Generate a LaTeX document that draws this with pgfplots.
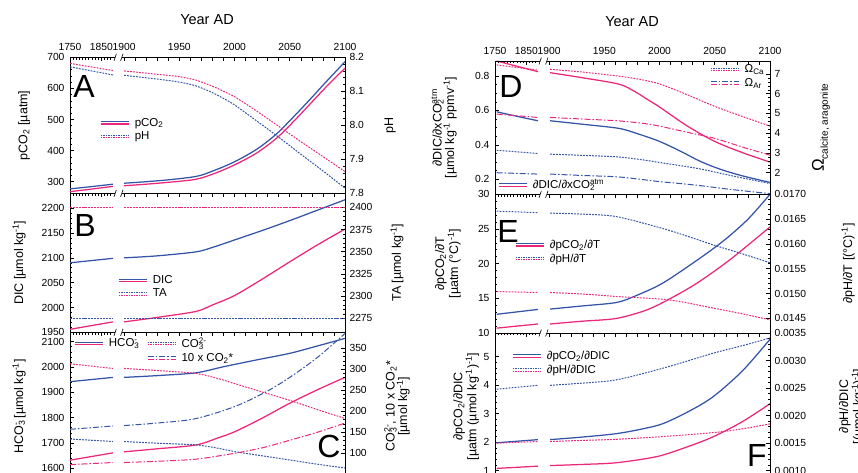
\documentclass[border=0pt]{standalone}
\usepackage{fontspec}
\setmainfont{Liberation Sans}
\usepackage{pgfplots}
\pgfplotsset{compat=1.18}
\definecolor{cb}{RGB}{52,84,168}
\definecolor{cp}{RGB}{236,38,120}
\newcommand{\fs}[1]{\fontsize{#1}{#1}\selectfont}

\pgfplotsset{
  common/.style={
    scale only axis, width=275pt, anchor=south west,
    xmin=1851.1, xmax=2100,
    tick align=inside,
    major tick length=4pt, minor tick length=2.3pt,
    tick style={black, line width=0.6pt},
    axis line style={line width=0.7pt},
    scaled y ticks=false,
    minor y tick num=4,
    /pgf/number format/assume math mode=true,
    /pgf/number format/1000 sep={},
    tick label style={font=\fs{10.3}},
    label style={font=\fs{12.5}},
    legend style={draw=none, fill=none, anchor=west, font=\fs{11.5},
      inner sep=0pt, row sep=1pt, nodes={inner sep=1.5pt},
      /tikz/every odd column/.append style={column sep=4pt}},
    legend cell align=left,
  },
  brk/.style={extra description/.code={
    \draw[line width=0.7pt] (axis description cs:0,1) -- (axis description cs:0.1643,1)
      (axis description cs:0.1884,1) -- (axis description cs:1,1)
      (axis description cs:0,0) -- (axis description cs:0.1643,0)
      (axis description cs:0.1884,0) -- (axis description cs:1,0);
    \draw[line width=0.6pt]
      ([xshift=-1.2pt,yshift=-3.5pt]axis description cs:0.1643,1) -- ([xshift=1.2pt,yshift=3.5pt]axis description cs:0.1643,1)
      ([xshift=-1.2pt,yshift=-3.5pt]axis description cs:0.1884,1) -- ([xshift=1.2pt,yshift=3.5pt]axis description cs:0.1884,1);
  }},
  lpanel/.style={common,
    separate axis lines, x axis line style={draw=none},
    clip mode=individual,
    xtick={1851.1,1879.5,1900,1910,1920,1930,1940,1950,1960,1970,1980,1990,2000,2010,2020,2030,2040,2050,2060,2070,2080,2090,2100},
    minor xtick={1853.9,1856.8,1859.6,1862.5,1865.3,1868.1,1871.0,1873.8,1876.7,1882.3,1885.2,1888.0},
    xticklabels={},
    xtick pos=right, ytick pos=left,
    yticklabel style={xshift=-2pt},
    brk},
  toppanel/.style={xticklabels={1750,1850,1900,,,,,1950,,,,,2000,,,,,2050,,,,,2100},
    xticklabel pos=right, xticklabel style={yshift=3pt}},
  rpanel/.style={common, axis x line=none, axis y line*=right,
    yticklabel style={xshift=1pt}},
  yl/.style={ylabel style={at={(axis description cs:#1,0.5)}, anchor=center, align=center}},
  prec/.style={yticklabel style={/pgf/number format/.cd, fixed, fixed zerofill, precision=#1}},
  bs/.style={cb, line width=1.25pt, smooth, forget plot},
  ps/.style={cp, line width=1.25pt, smooth, forget plot},
  bd/.style={cb, line width=1pt, dash pattern=on 1.8pt off 1.2pt, smooth, forget plot},
  pd/.style={cp, line width=1pt, dash pattern=on 1.8pt off 1.2pt, smooth, forget plot},
  bdd/.style={cb, line width=1pt, dash pattern=on 6pt off 2pt on 1.5pt off 2pt, smooth, forget plot},
  pdd/.style={cp, line width=1pt, dash pattern=on 6pt off 2pt on 1.5pt off 2pt, smooth, forget plot},
  lsolid/.style={legend image code/.code={
    \draw[cb,line width=1.1pt] (0pt,1.2pt) -- (28pt,1.2pt);
    \draw[cp,line width=1.1pt] (0pt,-1.2pt) -- (28pt,-1.2pt);}},
  ldot/.style={legend image code/.code={
    \draw[cb,line width=0.9pt,dash pattern=on 1.5pt off 1pt] (0pt,1.2pt) -- (28pt,1.2pt);
    \draw[cp,line width=0.9pt,dash pattern=on 1.5pt off 1pt] (0pt,-1.2pt) -- (28pt,-1.2pt);}},
  ldd/.style={legend image code/.code={
    \draw[cb,line width=0.9pt,dash pattern=on 6pt off 2pt on 1.5pt off 2pt] (0pt,1.2pt) -- (28pt,1.2pt);
    \draw[cp,line width=0.9pt,dash pattern=on 6pt off 2pt on 1.5pt off 2pt] (0pt,-1.2pt) -- (28pt,-1.2pt);}},
}

\begin{document}
\begin{tikzpicture}
\useasboundingbox (0pt,0pt) rectangle (858pt,-473pt);

% ---------------- A ----------------
\begin{axis}[lpanel, toppanel, at={(70pt,-193.3pt)}, height=136pt,
  ymin=262.7, ymax=700, ytick={300,400,500,600,700},
  ylabel={pCO\textsubscript{2} [µatm]}, yl=-0.167,
  legend style={at={(axis description cs:0.109,0.469)}}]
\addlegendimage{lsolid}\addlegendentry{pCO\textsubscript{2}}
\addlegendimage{ldot}\addlegendentry{pH}
\addplot[bs] coordinates {(1851.1,277) (1870,284) (1890,292)};
\addplot[bs] coordinates {(1900,295) (1920,300) (1940,306) (1960,314) (1970,321) (1980,334) (1990,348) (2000,364) (2010,383) (2020,404) (2030,430) (2040,460) (2050,496) (2060,533) (2070,571) (2080,610) (2090,648) (2100,686)};
\addplot[ps] coordinates {(1851.1,268) (1870,276) (1890,285)};
\addplot[ps] coordinates {(1900,287) (1920,292) (1940,298) (1960,305) (1970,312) (1980,324) (1990,338) (2000,354) (2010,372) (2020,392) (2030,417) (2040,446) (2050,481) (2060,518) (2070,556) (2080,594) (2090,630) (2100,665)};
\end{axis}
\begin{axis}[rpanel, at={(70pt,-193.3pt)}, height=136pt,
  ymin=7.8, ymax=8.2, ytick={7.8,7.9,8.0,8.1,8.2}, prec=1,
  ylabel={pH}, yl=1.164]
\addplot[pd] coordinates {(1851.1,8.182) (1890,8.161)};
\addplot[pd] coordinates {(1900,8.160) (1930,8.150) (1950,8.143) (1965,8.133) (1980,8.115) (1990,8.100) (2000,8.084) (2020,8.042) (2040,7.997) (2060,7.952) (2080,7.908) (2100,7.864)};
\addplot[bd] coordinates {(1851.1,8.172) (1890,8.148)};
\addplot[bd] coordinates {(1900,8.147) (1930,8.136) (1950,8.127) (1965,8.116) (1980,8.096) (1990,8.079) (2000,8.060) (2020,8.013) (2040,7.965) (2060,7.915) (2080,7.866) (2100,7.815)};
\end{axis}

% ---------------- B ----------------
\begin{axis}[lpanel, at={(70pt,-332.3pt)}, height=139pt,
  ymin=1950, ymax=2230, ytick={1950,2000,2050,2100,2150,2200},
  ylabel={DIC [µmol kg\textsuperscript{-1}]}, yl=-0.185,
  legend style={at={(axis description cs:0.175,0.326)}}]
\addlegendimage{lsolid}\addlegendentry{DIC}
\addlegendimage{ldot}\addlegendentry{TA}
\addplot[bs] coordinates {(1851.1,2090) (1890,2099)};
\addplot[bs] coordinates {(1900,2100) (1930,2104) (1965,2112) (1980,2121) (2000,2136) (2025,2155) (2050,2175) (2075,2196) (2100,2217)};
\addplot[ps] coordinates {(1851.1,1956) (1890,1971)};
\addplot[ps] coordinates {(1900,1971) (1930,1980) (1965,1992) (1980,2005) (2000,2024) (2025,2057) (2050,2092) (2075,2126) (2100,2158)};
\end{axis}
\begin{axis}[rpanel, at={(70pt,-332.3pt)}, height=139pt,
  ymin=2259.2, ymax=2415.8, ytick={2275,2300,2325,2350,2375,2400},
  ylabel={TA [µmol kg\textsuperscript{-1}]}, yl=1.189]
\addplot[pd] coordinates {(1851.1,2400) (1890,2400)};
\addplot[pd] coordinates {(1900,2400) (2100,2400)};
\addplot[bd] coordinates {(1851.1,2275) (1890,2275)};
\addplot[bd] coordinates {(1900,2275) (2100,2275)};
\end{axis}

% ---------------- C ----------------
\begin{axis}[lpanel, at={(70pt,-480pt)}, height=147.7pt,
  ymin=1553.8, ymax=2137, ytick={1600,1700,1800,1900,2000,2100},
  ylabel={HCO\rlap{\textsubscript{3}}\textsuperscript{-} [µmol kg\textsuperscript{-1}]}, yl=-0.185,
  legend columns=2,
  legend style={at={(axis description cs:0.015,0.878)},
    /tikz/every even column/.append style={column sep=8pt}}]
\addlegendimage{lsolid}\addlegendentry{HCO\rlap{\textsubscript{3}}\textsuperscript{-}}
\addlegendimage{ldot}\addlegendentry{CO\rlap{\textsubscript{3}}\textsuperscript{2-}}
\addlegendimage{empty legend}\addlegendentry{}
\addlegendimage{ldd}\addlegendentry{10 x CO\textsubscript{2}*}
\addplot[bs] coordinates {(1851.1,1942) (1890,1959)};
\addplot[bs] coordinates {(1900,1959) (1930,1966) (1965,1977) (1990,2001) (2020,2028) (2050,2054) (2075,2083) (2100,2113)};
\addplot[ps] coordinates {(1851.1,1632) (1890,1661)};
\addplot[ps] coordinates {(1900,1665) (1930,1677) (1965,1692) (1985,1720) (2000,1744) (2025,1798) (2050,1857) (2075,1910) (2100,1959)};
\end{axis}
\begin{axis}[rpanel, at={(70pt,-480pt)}, height=147.7pt,
  ymin=36.4, ymax=388, ytick={100,150,200,250,300,350},
  ylabel={CO\rlap{\textsubscript{3}}\textsuperscript{2-}, 10 x CO\textsubscript{2}*\\ {[µmol kg\textsuperscript{-1}]}}, yl=1.189]
\addplot[pd] coordinates {(1851.1,313) (1890,302)};
\addplot[pd] coordinates {(1900,302) (1930,297) (1965,290) (1985,278) (2000,266) (2025,246) (2050,226) (2075,204) (2100,183)};
\addplot[bd] coordinates {(1851.1,134) (1890,128)};
\addplot[bd] coordinates {(1900,128) (1930,124) (1965,120) (1985,112) (2000,104) (2025,94) (2050,84) (2075,74) (2100,65)};
\addplot[bdd] coordinates {(1851.1,157) (1890,165)};
\addplot[bdd] coordinates {(1900,166) (1930,172) (1964,182) (2000,211) (2029,247) (2049,279) (2074,326) (2100,385)};
\addplot[pdd] coordinates {(1851.1,73) (1890,78)};
\addplot[pdd] coordinates {(1900,78) (1930,81) (1965,86) (2000,100) (2025,113) (2050,131) (2075,150) (2100,172)};
\end{axis}

% ---------------- D ----------------
\begin{axis}[lpanel, toppanel, at={(495pt,-194.3pt)}, height=133.3pt,
  ymin=0.113, ymax=0.887, ytick={0.2,0.4,0.6,0.8}, prec=1, minor y tick num=3,
  ylabel={∂DIC/∂xCO\rlap{\textsubscript{2}}\textsuperscript{atm}\\ {[µmol kg\textsuperscript{-1} ppmv\textsuperscript{-1}]}}, yl=-0.185,
  legend style={at={(axis description cs:0.011,0.07)}}]
\addlegendimage{lsolid}\addlegendentry{∂DIC/∂xCO\rlap{\textsubscript{2}}\textsuperscript{atm}}
\addplot[ps] coordinates {(1852.6,0.887) (1870,0.858) (1890,0.825)};
\addplot[ps] coordinates {(1900.9,0.819) (1930,0.790) (1963,0.753) (1977,0.712) (1990,0.660) (2000,0.620) (2025,0.510) (2050,0.420) (2075,0.355) (2100,0.300)};
\addplot[bs] coordinates {(1852.6,0.592) (1870,0.567) (1890,0.540)};
\addplot[bs] coordinates {(1900.9,0.540) (1930,0.520) (1963,0.496) (1980,0.465) (2000,0.420) (2020,0.360) (2035,0.310) (2050,0.270) (2065,0.238) (2080,0.212) (2100,0.182)};
\end{axis}
\begin{axis}[rpanel, at={(495pt,-194.3pt)}, height=133.3pt,
  ymin=0.906, ymax=7.66, ytick={2,3,4,5,6,7},
  ylabel={\fs{17}Ω\raisebox{-4pt}{\fs{10}calcite, aragonite}}, yl=1.185,
  legend style={at={(axis description cs:0.782,0.885)}}]
\addlegendimage{ldot}\addlegendentry{Ω\textsubscript{Ca}}
\addlegendimage{ldd}\addlegendentry{Ω\textsubscript{Ar}}
\addplot[pd] coordinates {(1852.6,7.46) (1890,7.20)};
\addplot[pd] coordinates {(1900.9,7.24) (1930,7.10) (1962,6.90) (1980,6.75) (2000,6.50) (2025,5.95) (2050,5.36) (2075,4.85) (2100,4.36)};
\addplot[bd] coordinates {(1852.6,3.14) (1890,2.97)};
\addplot[bd] coordinates {(1900.9,2.94) (1930,2.88) (1962,2.80) (1985,2.65) (2000,2.52) (2035,2.21) (2065,1.85) (2100,1.45)};
\addplot[pdd] coordinates {(1852.6,4.97) (1890,4.80)};
\addplot[pdd] coordinates {(1900.9,4.80) (1930,4.72) (1962,4.63) (1985,4.50) (2000,4.36) (2025,4.05) (2050,3.74) (2075,3.30) (2100,2.89)};
\addplot[bdd] coordinates {(1852.6,2.00) (1890,1.93)};
\addplot[bdd] coordinates {(1900.9,1.93) (1930,1.86) (1962,1.79) (1985,1.65) (2000,1.55) (2033,1.37) (2065,1.15) (2100,0.94)};
\end{axis}

% ---------------- E ----------------
\begin{axis}[lpanel, at={(495pt,-333pt)}, height=138.7pt,
  ymin=10, ymax=30, ytick={10,15,20,25,30},
  ylabel={∂pCO\textsubscript{2}/∂T\\ {[µatm (°C)\textsuperscript{-1}]}}, yl=-0.171,
  legend style={at={(axis description cs:0.073,0.586)}}]
\addlegendimage{lsolid}\addlegendentry{∂pCO\textsubscript{2}/∂T}
\addlegendimage{ldot}\addlegendentry{∂pH/∂T}
\addplot[bs] coordinates {(1852.6,12.7) (1890,13.4)};
\addplot[bs] coordinates {(1900.9,13.45) (1930,13.9) (1961,14.4) (1979,15.4) (2003,17.2) (2034,20.5) (2058,23.3) (2080,26.4) (2100,30.0)};
\addplot[ps] coordinates {(1852.6,10.7) (1890,11.3)};
\addplot[ps] coordinates {(1900.9,11.3) (1930,11.7) (1961,12.1) (1988,13.3) (2009,14.9) (2034,17.2) (2064,20.6) (2100,25.3)};
\end{axis}
\begin{axis}[rpanel, at={(495pt,-333pt)}, height=138.7pt,
  ymin=0.014204, ymax=0.0170, ytick={0.0145,0.0150,0.0155,0.0160,0.0165,0.0170}, prec=4,
  ylabel={∂pH/∂T [(°C)\textsuperscript{-1}]}, yl=1.284]
\addplot[bd] coordinates {(1852.6,0.01666) (1890,0.01663)};
\addplot[bd] coordinates {(1900.9,0.01662) (1930,0.01660) (1961,0.01655) (2003,0.01631) (2030,0.01612) (2050,0.01597) (2075,0.01580) (2100,0.01562)};
\addplot[pd] coordinates {(1852.6,0.01504) (1890,0.01502)};
\addplot[pd] coordinates {(1900.9,0.01502) (1930,0.01499) (1961,0.01494) (2009,0.01487) (2050,0.01470) (2075,0.01459) (2100,0.01447)};
\end{axis}

% ---------------- F ----------------
\begin{axis}[lpanel, at={(495pt,-480pt)}, height=147pt,
  ymin=0.674, ymax=5.83, ytick={1,2,3,4,5},
  ylabel={∂pCO\textsubscript{2}/∂DIC\\ {[µatm (µmol kg\textsuperscript{-1})\textsuperscript{-1}]}}, yl=-0.105,
  legend style={at={(axis description cs:0.062,0.797)}}]
\addlegendimage{lsolid}\addlegendentry{∂pCO\textsubscript{2}/∂DIC}
\addlegendimage{ldot}\addlegendentry{∂pH/∂DIC}
\addplot[bs] coordinates {(1852.6,1.98) (1890,2.09)};
\addplot[bs] coordinates {(1900.9,2.09) (1930,2.18) (1961,2.30) (1985,2.47) (2003,2.65) (2025,3.05) (2048,3.58) (2075,4.50) (2100,5.61)};
\addplot[ps] coordinates {(1852.6,1.08) (1890,1.16)};
\addplot[ps] coordinates {(1900.9,1.18) (1930,1.22) (1961,1.28) (1997,1.49) (2021,1.78) (2048,2.18) (2075,2.72) (2100,3.35)};
\end{axis}
\begin{axis}[rpanel, at={(495pt,-480pt)}, height=147pt,
  ymin=0.000831, ymax=0.0035, ytick={0.0010,0.0015,0.0020,0.0025,0.0030,0.0035}, prec=4,
  ylabel={∂pH/∂DIC\\ {[(µmol kg\textsuperscript{-1})\textsuperscript{-1}]}}, yl=1.298]
\addplot[bd] coordinates {(1852.6,0.00248) (1890,0.00255)};
\addplot[bd] coordinates {(1900.9,0.00255) (1930,0.00259) (1961,0.00265) (2003,0.00286) (2048,0.00313) (2075,0.00327) (2100,0.00341)};
\addplot[pd] coordinates {(1852.6,0.00150) (1890,0.00153)};
\addplot[pd] coordinates {(1900.9,0.00153) (1930,0.00155) (1961,0.00157) (2003,0.00162) (2048,0.00169) (2075,0.00176) (2100,0.00185)};
\end{axis}

% titles and panel letters
\node[font=\fs{14.5}] at (207pt,-20pt) {Year AD};
\node[font=\fs{14.5}] at (632pt,-22pt) {Year AD};
\node[font=\fs{32}, inner sep=0pt] at (84pt,-86pt) {A};
\node[font=\fs{32}, inner sep=0pt] at (85pt,-225pt) {B};
\node[font=\fs{32}, inner sep=0pt] at (329pt,-446pt) {C};
\node[font=\fs{32}, inner sep=0pt] at (511pt,-86pt) {D};
\node[font=\fs{32}, inner sep=0pt] at (508pt,-231pt) {E};
\node[font=\fs{32}, inner sep=0pt] at (757pt,-455pt) {F};
\end{tikzpicture}
\end{document}
